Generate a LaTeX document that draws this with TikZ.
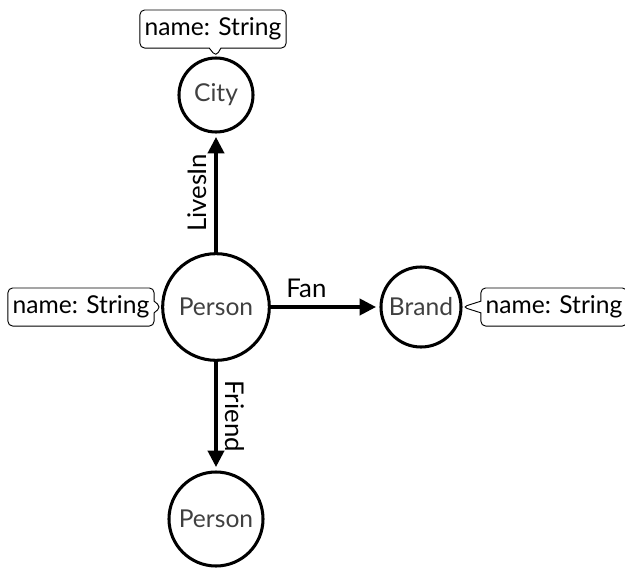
\documentclass[tikz,border=0pt]{standalone}
\usepackage{fontspec}
\setmainfont{Lato}
\usepackage{tikz}
\usetikzlibrary{shapes, shapes.callouts, arrows.meta}

\tikzset{
  entity/.style={draw, circle, line width=1.3pt, inner sep=0pt, font=\fontsize{10.5}{12}\selectfont, text=black!75},
  attr/.style={draw, rectangle callout, rounded corners=2pt, line width=0.4pt, inner xsep=2pt,
    minimum height=0.5cm, callout pointer width=5pt, font=\fontsize{10.5}{12}\selectfont},
  rel/.style={line width=1.3pt, -{Triangle[length=7pt,width=7pt]}, shorten >=1.5pt},
  rellabel/.style={font=\fontsize{11}{13}\selectfont}
}

\begin{document}
\begin{tikzpicture}[x=0.015cm, y=-0.015cm]
\useasboundingbox (0,0) rectangle (625,571);
\node[entity, minimum size=1.11cm] (city) at (216,95) {City};
\node[entity, minimum size=1.6cm] (person) at (216,307) {Person};
\node[entity, minimum size=1.2cm] (brand) at (421,307) {Brand};
\node[entity, minimum size=1.41cm] (friend) at (216,519) {Person};
\node[attr, callout absolute pointer={(city.north)}] (cityname) at (213,29) {name: String};
\node[attr, callout absolute pointer={(person.west)}] (personname) at (81,307) {name: String};
\node[attr, callout absolute pointer={(brand.east)}] (brandname) at (554,307) {name: String};
\draw[rel] (person) -- node[midway, above, sloped, rellabel] {LivesIn} (city);
\draw[rel] (person) -- node[midway, above, rellabel, xshift=-8pt] {Fan} (brand);
\draw[rel] (person) -- node[midway, above, sloped, rellabel] {Friend} (friend);
\end{tikzpicture}
\end{document}
